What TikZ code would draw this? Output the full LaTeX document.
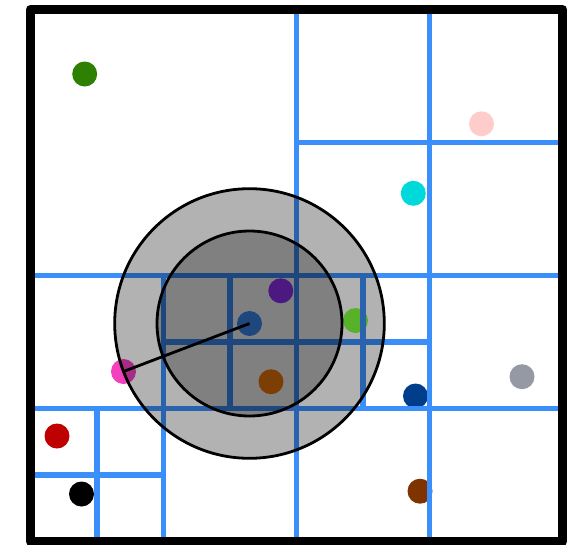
\documentclass[tikz,border=0pt]{standalone}
\usetikzlibrary{calc}
\definecolor{qblue}{RGB}{59,143,250}
\definecolor{cgreen}{RGB}{46,128,0}
\definecolor{cpinkl}{RGB}{255,204,204}
\definecolor{ccyan}{RGB}{0,217,217}
\definecolor{cpurple}{RGB}{153,51,255}
\definecolor{cgreenb}{RGB}{125,255,60}
\definecolor{corange}{RGB}{250,125,10}
\definecolor{cnavy}{RGB}{0,61,138}
\definecolor{cgrey}{RGB}{148,153,163}
\definecolor{cbrown}{RGB}{127,51,0}
\definecolor{cred}{RGB}{191,0,0}
\definecolor{cpink}{RGB}{242,64,191}
\tikzset{
  dot/.style={circle,inner sep=0pt,minimum size=25pt,draw=none,fill=#1},
  qline/.style={draw=qblue,line width=5.5pt},
  border/.style={draw=black,line width=9pt,line join=round},
  ball/.style={draw=black,line width=2.8pt,fill=black,fill opacity=0.3},
  innerball/.style={draw=black,line width=2.8pt,fill=black,fill opacity=0.28},
  radius line/.style={draw=black,line width=2.8pt}
}
\begin{document}
\begin{tikzpicture}[x=1pt,y=-1pt]
\useasboundingbox (0,0) rectangle (581,544);
% points
\node[dot=cgreen]  (p1) at (84.7,74) {};
\node[dot=cpinkl]  (p2) at (481.5,123.8) {};
\node[dot=ccyan]   (p3) at (413.3,193.3) {};
\node[dot=cpurple] (p4) at (280.8,290.8) {};
\node[dot=qblue]   (c)  at (249.5,323.5) {};
\node[dot=cgreenb] (p5) at (355.5,320.5) {};
\node[dot=corange] (p6) at (271,381.7) {};
\node[dot=cnavy]   (p7) at (415.5,396) {};
\node[dot=cgrey]   (p8) at (522,376.7) {};
\node[dot=cbrown]  (p9) at (420,491.2) {};
\node[dot=cred]    (p10) at (57,436) {};
\node[dot=black]   (p11) at (81.5,494) {};
\node[dot=cpink]   (pk) at (123.5,371.5) {};
% quadtree lines
\draw[qline] (296.5,9.5) -- (296.5,541.5);
\draw[qline] (30.5,275.5) -- (562.5,275.5);
\draw[qline] (429.5,9.5) -- (429.5,275.5);
\draw[qline] (296.5,142.5) -- (562.5,142.5);
\draw[qline] (163.5,275.5) -- (163.5,541.5);
\draw[qline] (30.5,408.5) -- (296.5,408.5);
\draw[qline] (97,408.5) -- (97,541.5);
\draw[qline] (30.5,475) -- (163.5,475);
\draw[qline] (230,275.5) -- (230,408.5);
\draw[qline] (163.5,342) -- (296.5,342);
\draw[qline] (429.5,275.5) -- (429.5,541.5);
\draw[qline] (296.5,408.5) -- (562.5,408.5);
\draw[qline] (363,275.5) -- (363,408.5);
\draw[qline] (296.5,342) -- (429.5,342);
% border
\draw[border] (30.5,9.5) rectangle (562.5,541.5);
% search circles
\draw[ball] (c.center) circle[radius=134.8pt];
\draw[innerball] (c.center) circle[radius=92.5pt];
\draw[radius line] (c.center) -- (pk.center);
\end{tikzpicture}
\end{document}
